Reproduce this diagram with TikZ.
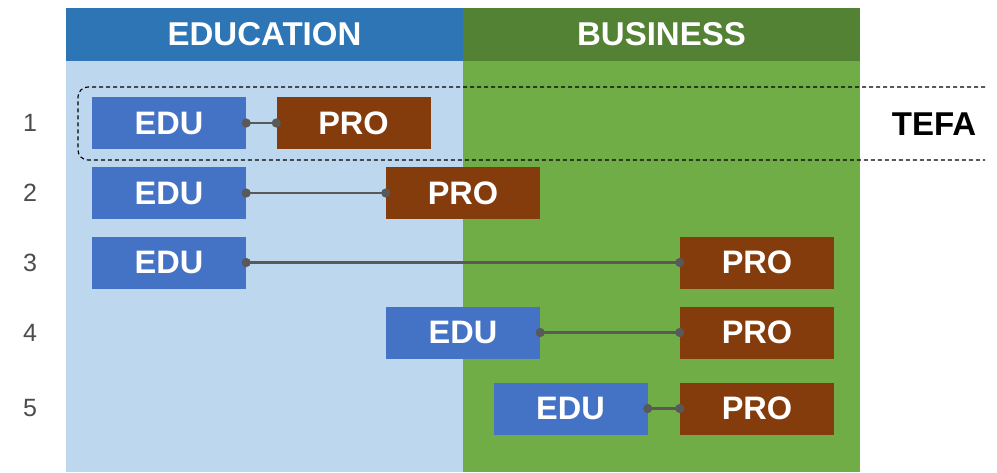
\documentclass[tikz,border=0pt]{standalone}
\usepackage{fontspec}
\setmainfont{Liberation Sans}
\definecolor{eduhead}{HTML}{2E75B6}
\definecolor{edubody}{HTML}{BDD7EE}
\definecolor{bushead}{HTML}{548235}
\definecolor{busbody}{HTML}{70AD47}
\definecolor{edublue}{HTML}{4472C4}
\definecolor{probrown}{HTML}{843C0C}
\definecolor{linkgray}{HTML}{595959}
\tikzset{
  head/.style={minimum width=397pt, minimum height=53pt, inner sep=0pt, text=white, font=\fontsize{33}{33}\selectfont\bfseries},
  box/.style={minimum width=154pt, minimum height=52pt, inner sep=0pt, text=white, font=\fontsize{32.5}{32.5}\selectfont\bfseries},
  edu/.style={box, fill=edublue},
  pro/.style={box, fill=probrown},
  link/.style={draw=linkgray, line width=2.8pt}
}
\begin{document}
\begin{tikzpicture}[x=1pt,y=-1pt]
\useasboundingbox (0,0) rectangle (997,472);
\fill[edubody] (66,61) rectangle (463,472);
\fill[busbody] (463,61) rectangle (860,472);
\node[head, fill=eduhead] (H1) at (264.5,34.5){EDUCATION};
\node[head, fill=bushead] (H2) at (661.5,34.5){BUSINESS};

\foreach \r/\y/\e/\p in {1/123/169/353.5, 2/193/169/463, 3/262.5/169/757, 4/332.5/463/757, 5/408.5/570.5/757}
{
    \node[text=black!70, font=\fontsize{25}{25}\selectfont] (N\r) at (30,\y){\r};
    \node[edu] (E\r) at (\e,\y){EDU};
    \node[pro] (P\r) at (\p,\y){PRO};
    \draw[link] (E\r.east) -- (P\r.west);
    \fill[linkgray] (E\r.east) circle (4.6pt) (P\r.west) circle (4.6pt);
}

\draw[dash pattern=on 4pt off 3pt, line width=1.1pt, rounded corners=10pt](985,87) -- (78,87) -- (78,160) -- (985,160);
\node[font=\fontsize{33}{33}\selectfont\bfseries] (T) at (934,124){TEFA};

\end{tikzpicture}
\end{document}
